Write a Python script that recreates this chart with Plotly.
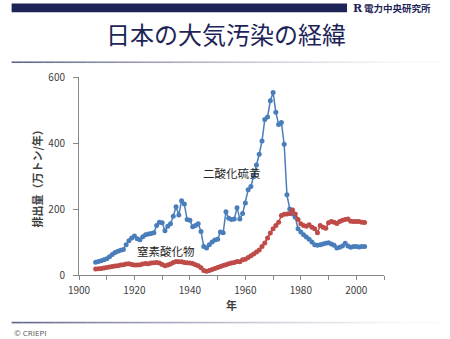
import plotly.graph_objects as go

# Annual emissions in Japan (10,000 t / year)
years = list(range(1906, 2004))

so2 = [39, 41, 43, 46, 49, 55, 62, 68, 72, 75,
       77, 92, 104, 112, 118, 110, 107, 116, 122, 124,
       126, 128, 150, 160, 158, 134, 148, 155, 178, 207,
       182, 225, 215, 168, 166, 146, 150, 155, 132, 86,
       82, 92, 100, 106, 108, 130, 128, 192, 172, 168,
       170, 204, 170, 186, 218, 258, 268, 298, 333, 366,
       406, 471, 479, 528, 553, 493, 456, 462, 396, 243,
       200, 185, 175, 140, 130, 122, 115, 108, 100, 92,
       90, 92, 94, 96, 98, 94, 90, 82, 84, 88,
       96, 88, 84, 86, 86, 85, 86, 86]

nox = [18, 19, 20, 21, 23, 24, 26, 27, 28, 30,
       31, 33, 34, 32, 30, 30, 31, 33, 35, 34,
       36, 37, 38, 36, 32, 28, 30, 33, 38, 41,
       40, 40, 38, 37, 36, 35, 31, 28, 22, 14,
       11, 14, 17, 20, 23, 26, 29, 31, 34, 36,
       38, 41, 40, 46, 48, 53, 58, 64, 70, 76,
       86, 97, 112, 127, 140, 150, 160, 180, 184, 185,
       186, 197, 185, 168, 155, 150, 148, 152, 145, 140,
       128, 150, 145, 142, 158, 162, 160, 156, 162, 166,
       168, 170, 163, 162, 162, 162, 160, 159]

x_ticks = list(range(1900, 2011, 10))
x_labels = [str(v) if v % 20 == 0 and v <= 2000 else "" for v in x_ticks]
y_ticks = [0, 200, 400, 600]

W, H = 450, 339
ML, MR, MT, MB = 78.5, 66, 76.8, 63.7
PW, PH = W - ML - MR, H - MT - MB


def px(x):
    return (x - ML) / PW


def py(y):
    return (H - MB - y) / PH


FONT = "Noto Sans CJK JP"
NAVY = "#1d2457"

fig = go.Figure()
fig.add_trace(go.Scatter(
    x=years, y=so2, mode="lines+markers", name="二酸化硫黄",
    line=dict(color="#4a7ebb", width=1.5),
    marker=dict(color="#4a7ebb", size=5)))
fig.add_trace(go.Scatter(
    x=years, y=nox, mode="lines+markers", name="窒素酸化物",
    line=dict(color="#be4b48", width=1.5),
    marker=dict(color="#be4b48", size=5)))

shapes = []
# header bar
shapes.append(dict(type="rect", xref="paper", yref="paper",
                   x0=px(11), x1=px(347), y0=py(12), y1=py(3),
                   fillcolor=NAVY, line=dict(width=0), layer="above"))


# fading rules under the title and above the footer
def fade_line(yy, x0, x1, n=40):
    out = []
    step = (x1 - x0) / n
    for i in range(n):
        t = i / (n - 1)
        out.append(dict(type="line", xref="paper", yref="paper",
                        x0=px(x0 + i * step), x1=px(x0 + (i + 1) * step),
                        y0=py(yy), y1=py(yy),
                        line=dict(color=NAVY, width=1.6),
                        opacity=max(0.02, 0.7 * (1 - t) ** 1.3)))
    return out


shapes += fade_line(62, 11, 440)
shapes += fade_line(323, 11, 440)

annotations = [
    dict(text="日本の大気汚染の経緯", x=px(226), y=py(33), xref="paper", yref="paper",
         showarrow=False, font=dict(family=FONT, size=24, color=NAVY),
         xanchor="center", yanchor="middle"),
    dict(text="<b>R</b>", x=px(351), y=py(8), xref="paper", yref="paper",
         showarrow=False, font=dict(family="DejaVu Serif", size=11, color=NAVY),
         xanchor="left", yanchor="middle"),
    dict(text="<b>電力中央研究所</b>", x=px(362), y=py(8), xref="paper", yref="paper",
         showarrow=False, font=dict(family=FONT, size=9.5, color=NAVY),
         xanchor="left", yanchor="middle"),
    dict(text="© CRIEPI", x=px(11), y=py(333), xref="paper", yref="paper",
         showarrow=False, font=dict(family="Open Sans", size=8, color="#555555"),
         xanchor="left", yanchor="middle"),
    dict(text="二酸化硫黄", x=1955, y=310, xref="x", yref="y",
         showarrow=False, font=dict(family=FONT, size=11.5, color="#262626"),
         xanchor="center", yanchor="middle"),
    dict(text="窒素酸化物", x=1931.5, y=74, xref="x", yref="y",
         showarrow=False, font=dict(family=FONT, size=11.5, color="#262626"),
         xanchor="center", yanchor="middle"),
]

fig.update_layout(
    width=W, height=H,
    margin=dict(l=ML, r=MR, t=MT, b=MB),
    paper_bgcolor="white", plot_bgcolor="white",
    showlegend=False,
    shapes=shapes, annotations=annotations,
    font=dict(family=FONT, color="#404040"),
    xaxis=dict(range=[1900, 2010], tickmode="array", tickvals=x_ticks, ticktext=x_labels,
               showgrid=False, zeroline=False, showline=True, linecolor="#868686",
               linewidth=1, ticks="outside", ticklen=4, tickcolor="#868686",
               ticklabelstandoff=2,
               tickfont=dict(family=FONT, size=10, color="#404040"),
               title=dict(text="<b>年</b>", font=dict(family=FONT, size=11, color="#404040"),
                          standoff=2)),
    yaxis=dict(range=[0, 600], tickmode="array", tickvals=y_ticks,
               showgrid=False, zeroline=False, showline=True, linecolor="#868686",
               linewidth=1, ticks="outside", ticklen=5, tickcolor="#868686",
               ticklabelstandoff=6,
               tickfont=dict(family=FONT, size=10, color="#404040"),
               title=dict(text="<b>排出量（万トン/年）</b>",
                          font=dict(family=FONT, size=11, color="#404040"),
                          standoff=3)),
)

fig.write_html("out.html")
